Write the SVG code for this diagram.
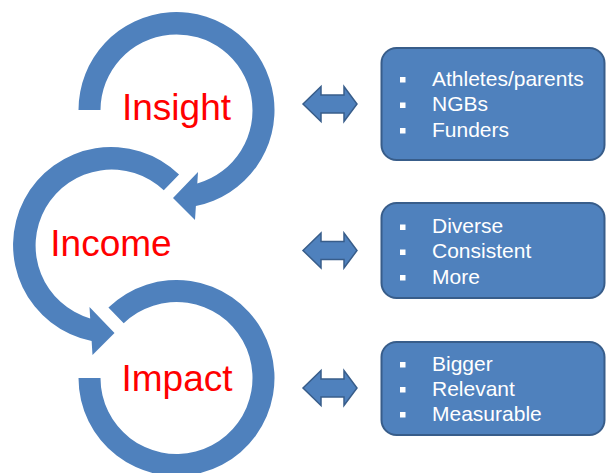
<svg xmlns="http://www.w3.org/2000/svg" width="606" height="473" viewBox="0 0 606 473">
  <style>
    .ring { fill: #4f81bd; }
    .stage { font-family: "Liberation Sans", Arial, sans-serif; font-size: 37px; fill: #f00; text-anchor: middle; }
    .box { fill: #4f81bd; stroke: #385d8a; stroke-width: 2; }
    .item { font-family: "Liberation Sans", Arial, sans-serif; font-size: 21px; fill: #fff; }
    .dot { fill: #fff; }
    .link { fill: #4f81bd; stroke: #385d8a; stroke-width: 1.5; stroke-linejoin: miter; }
  </style>
  <defs>
    <rect id="bullet" class="dot" x="0" y="0" width="5.5" height="5.5"/>
    <path id="dbl" d="M -27,0 L -9,-17.5 L -9,-9 L 14,-9 L 14,-17.5 L 27,0 L 14,17.5 L 14,9 L -9,9 L -9,17.5 Z"/>
  </defs>

  <rect width="606" height="473" fill="#fff"/>

  <!-- cycle stages -->
  <g id="insight">
    <path class="ring" d="M 78.5,110 A 98 98 0 1 1 195.9,206.1 L 195,220 L 173,198 L 198,172 L 197.3,183.5 A 76 76 0 1 0 100.5,110 Z"/>
    <text class="stage" x="176.5" y="120">Insight</text>
  </g>
  <g id="income">
    <path class="ring" d="M 179.08,174.5 A 98 98 0 1 0 91.63,341.1 L 92.5,355 L 114.5,333 L 89.5,307 L 90.2,318.5 A 76 76 0 1 1 163.79,190.33 Z"/>
    <text class="stage" x="111" y="256">Income</text>
  </g>
  <g id="impact">
    <path class="ring" d="M 108.42,307.5 A 98 98 0 1 1 78.5,378 L 100.5,378 A 76 76 0 1 0 123.71,323.33 Z"/>
    <text class="stage" x="177" y="391">Impact</text>
  </g>

  <!-- detail boxes -->
  <g id="insight-detail">
    <rect class="box" x="381.5" y="48" width="223" height="112" rx="15"/>
    <use href="#bullet" x="400" y="77"/>
    <use href="#bullet" x="400" y="102.5"/>
    <use href="#bullet" x="400" y="128"/>
    <text class="item" x="432" y="85.5">Athletes/parents</text>
    <text class="item" x="432" y="111">NGBs</text>
    <text class="item" x="432" y="136.5">Funders</text>
  </g>
  <g id="income-detail">
    <rect class="box" x="381.5" y="203" width="223" height="95" rx="15"/>
    <use href="#bullet" x="400" y="224.5"/>
    <use href="#bullet" x="400" y="249.5"/>
    <use href="#bullet" x="400" y="275"/>
    <text class="item" x="432" y="233">Diverse</text>
    <text class="item" x="432" y="258">Consistent</text>
    <text class="item" x="432" y="283.5">More</text>
  </g>
  <g id="impact-detail">
    <rect class="box" x="381.5" y="342" width="223" height="93" rx="15"/>
    <use href="#bullet" x="400" y="362"/>
    <use href="#bullet" x="400" y="387"/>
    <use href="#bullet" x="400" y="412"/>
    <text class="item" x="432" y="370.5">Bigger</text>
    <text class="item" x="432" y="395.5">Relevant</text>
    <text class="item" x="432" y="420.5">Measurable</text>
  </g>

  <!-- two-way links between stages and details -->
  <g id="connectors">
    <use href="#dbl" class="link" transform="translate(330,104)"/>
    <use href="#dbl" class="link" transform="translate(330,250.5)"/>
    <use href="#dbl" class="link" transform="translate(330,388)"/>
  </g>
</svg>
